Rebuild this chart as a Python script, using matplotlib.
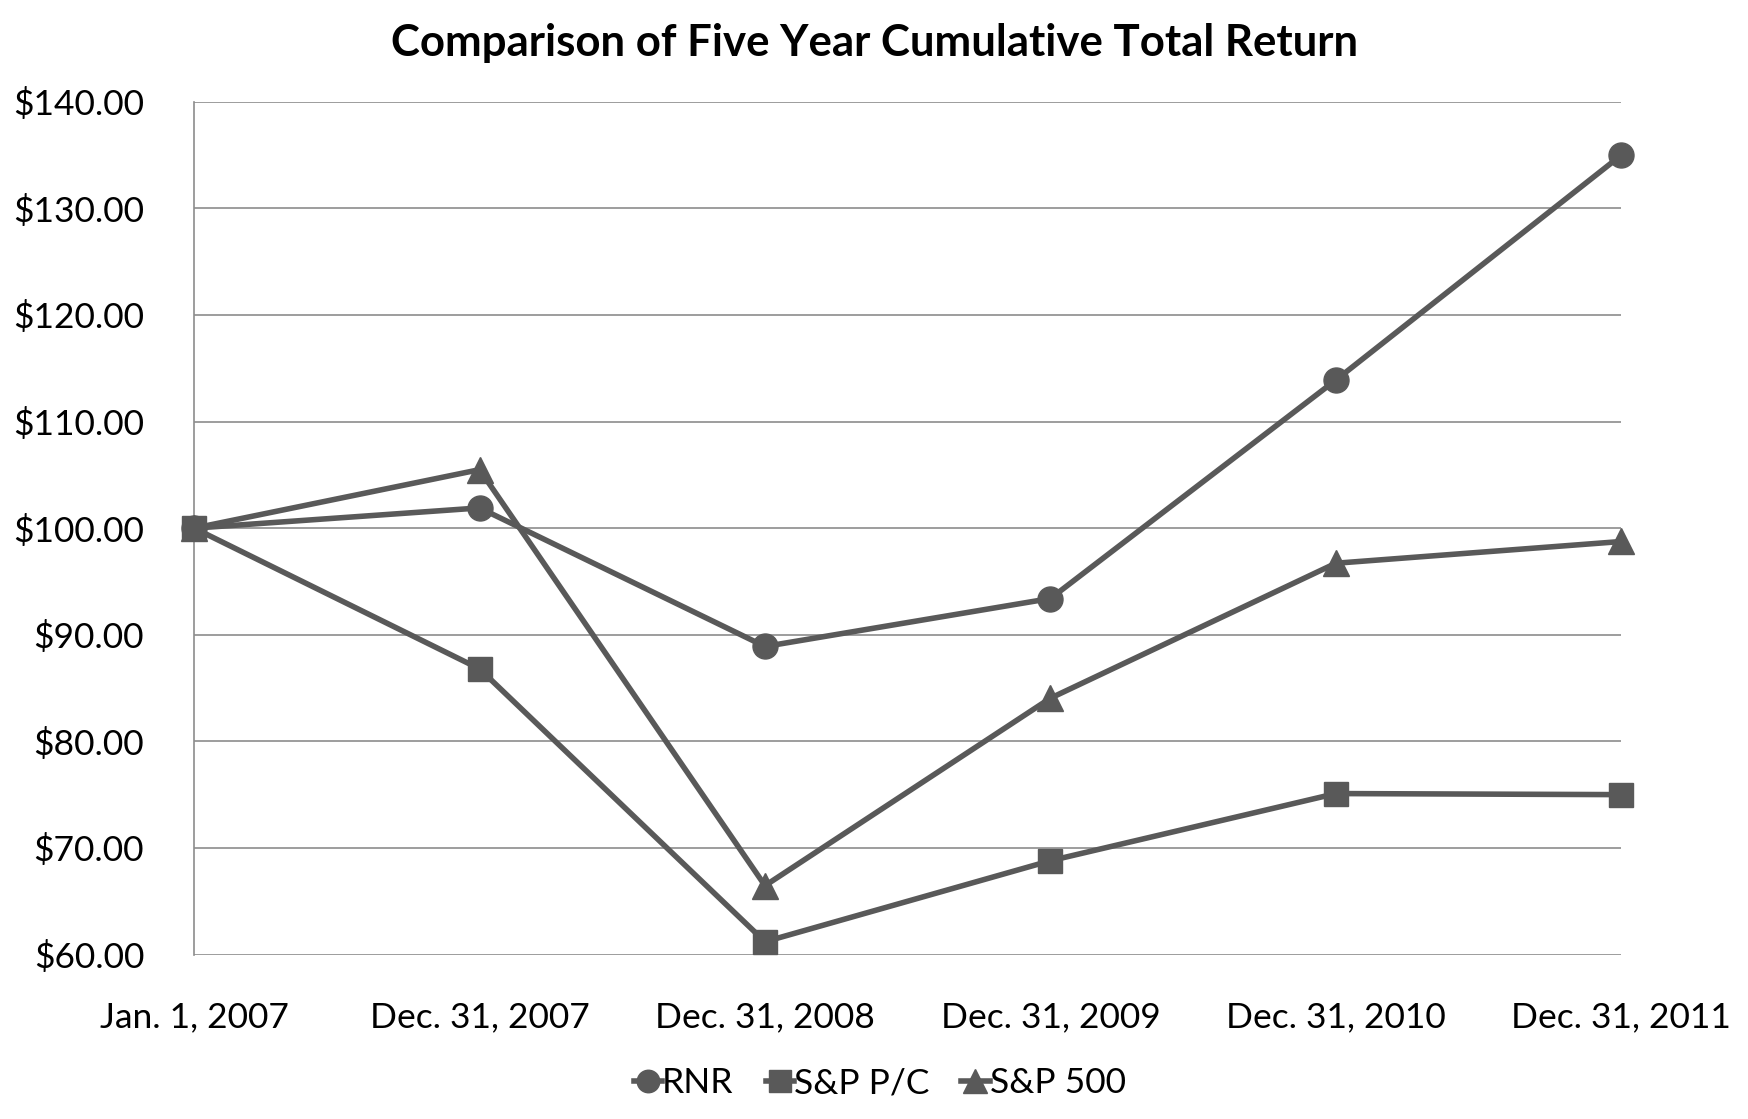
import matplotlib.pyplot as plt
from matplotlib.ticker import FuncFormatter

plt.rcParams['font.family'] = ['Lato', 'DejaVu Sans']

dates = ['Jan. 1, 2007', 'Dec. 31, 2007', 'Dec. 31, 2008',
         'Dec. 31, 2009', 'Dec. 31, 2010', 'Dec. 31, 2011']
rnr = [100.00, 101.9, 88.9, 93.4, 113.9, 135.0]
sp_pc = [100.00, 86.8, 61.2, 68.8, 75.1, 75.0]
sp_500 = [100.00, 105.49, 66.46, 84.05, 96.71, 98.75]

grey = '#595959'

fig = plt.figure(figsize=(17.49, 11.19), dpi=100)
ax = fig.add_axes([0.111, 0.147, 0.816, 0.762])

x = range(len(dates))
ax.plot(x, rnr, color=grey, lw=4, marker='o', ms=18, label='RNR', clip_on=False, zorder=3)
ax.plot(x, sp_pc, color=grey, lw=4, marker='s', ms=17, label='S&P P/C', clip_on=False, zorder=3)
ax.plot(x, sp_500, color=grey, lw=4, marker='^', ms=19, label='S&P 500', clip_on=False, zorder=3)

ax.set_xlim(0, len(dates) - 1)
ax.set_ylim(60, 140)
ax.set_yticks(range(60, 141, 10))
ax.yaxis.set_major_formatter(FuncFormatter(lambda v, p: '${:.2f}'.format(v)))
ax.set_xticks(list(x))
ax.set_xticklabels(dates)
ax.tick_params(axis='both', length=0, labelsize=25.5)
ax.tick_params(axis='y', pad=36)
ax.tick_params(axis='x', pad=34)
ax.grid(axis='y', color='#8c8c8c', lw=1.2)
ax.set_axisbelow(True)
for s in ['top', 'right', 'bottom']:
    ax.spines[s].set_visible(False)
ax.spines['left'].set_color('#8c8c8c')
ax.spines['left'].set_linewidth(1.2)

fig.suptitle('Comparison of Five Year Cumulative Total Return', fontsize=31.5,
             fontweight='bold', y=0.979)

fig.legend(loc='center', bbox_to_anchor=(0.503, 0.032), ncol=3, frameon=False,
           fontsize=25.5, handlelength=0.8, handletextpad=0.0, columnspacing=0.9,
           markerscale=0.9)

fig.savefig('out.png', dpi=100)
